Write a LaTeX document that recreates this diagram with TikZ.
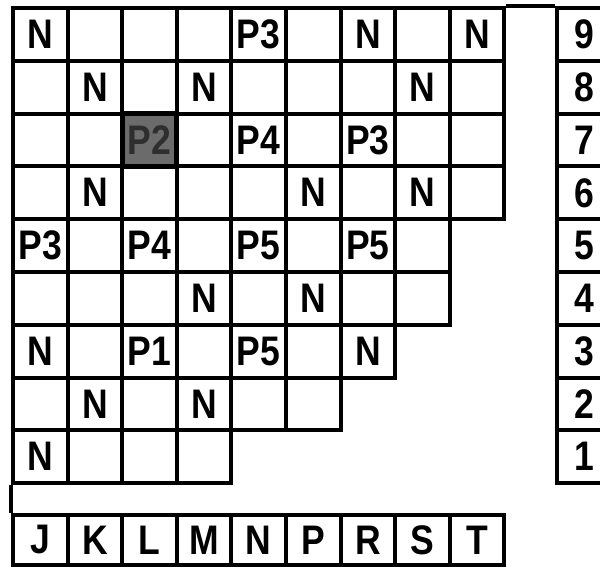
\documentclass[tikz,border=0pt]{standalone}
\usepackage{fontspec}
\setmainfont{Liberation Sans}
\newfontfamily\labfont{Liberation Sans}[FakeStretch=0.86]
\newcommand\gridrow[2]{%
  \foreach \t [count=\i] in {#2}{%
    \node[cell] (c#1-\i) at ({13+(\i-0.5)*54.6},{8+(9-#1+0.5)*52.8}) {\t};}}
\begin{document}
\begin{tikzpicture}[x=0.02cm,y=-0.02cm,
  cell/.style={draw,line width=2.3pt,minimum width=1.092cm,minimum height=1.056cm,
    inner sep=0pt,font=\labfont\bfseries\fontsize{23.5}{24}\selectfont},
  bcell/.style={cell,minimum height=1.0cm},
  rcell/.style={cell,minimum width=1.1cm},
  edge/.style={line width=2.3pt}]
\useasboundingbox (0,0) rectangle (600,567);
\gridrow{9}{N,{},{},{},P3,{},N,{},N}
\gridrow{8}{{},N,{},N,{},{},{},N,{}}
\gridrow{7}{{},{},{},{},P4,{},P3,{},{}}
\gridrow{6}{{},N,{},{},{},N,{},N,{}}
\gridrow{5}{P3,{},P4,{},P5,{},P5,{}}
\gridrow{4}{{},{},{},N,{},N,{},{}}
\gridrow{3}{N,{},P1,{},P5,{},N}
\gridrow{2}{{},N,{},N,{},{}}
\gridrow{1}{N,{},{},{}}
% shaded cell
\node[cell,fill=black!58,text=black!82,line width=3pt] (p2) at (c7-3) {P2};
% bottom letter row
\foreach \t [count=\i] in {J,K,L,M,N,P,R,S,T}
  \node[bcell] (b\i) at ({13+(\i-0.5)*54.6},540) {\t};
% right number column
\foreach \n in {9,...,1}
  \node[rcell] (r\n) at (584.5,{8+(9-\n+0.5)*52.8}) {\n};
% gap line on the left and the top line joining to the number column
\draw[edge] (c1-1.south west) -- (b1.north west);
\draw[edge] (c9-9.north east) -- (r9.north west);
\end{tikzpicture}
\end{document}
